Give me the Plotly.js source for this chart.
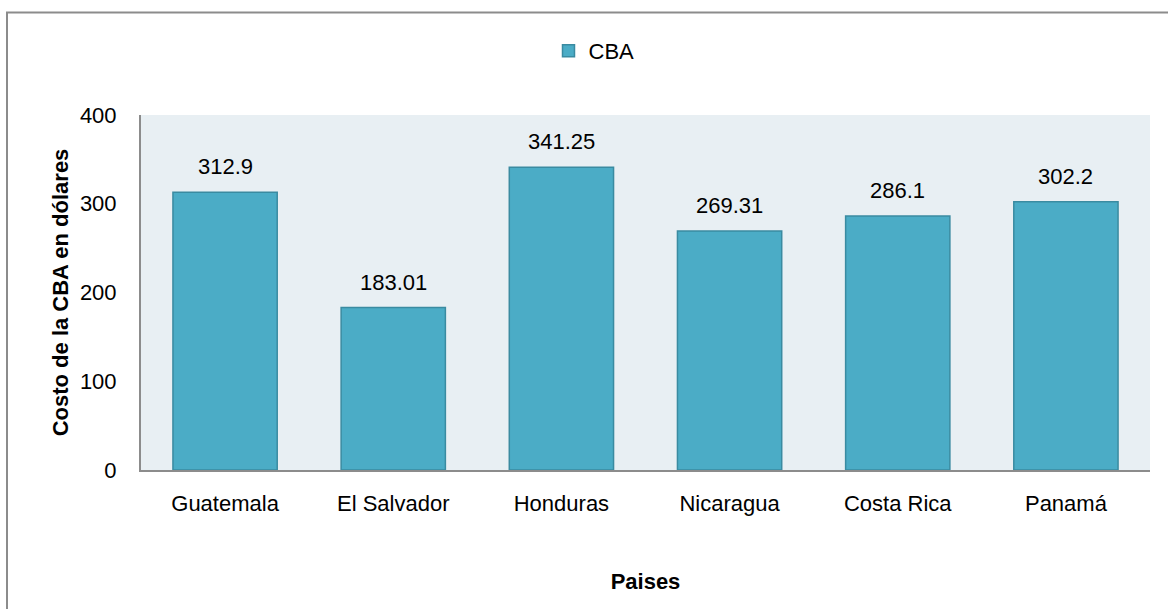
<!DOCTYPE html>
<html>
<head>
<meta charset="utf-8">
<script src="https://cdn.plot.ly/plotly-3.0.1.min.js"></script>
<style>
html,body{margin:0;padding:0;background:#fff;}
#chart{width:1168px;height:609px;}
</style>
</head>
<body>
<div id="chart"></div>
<script>
const countries = ["Guatemala", "El Salvador", "Honduras", "Nicaragua", "Costa Rica", "Panamá"];
const cbaValues = [312.9, 183.01, 341.25, 269.31, 286.1, 302.2];
const valueLabels = ["312.9", "183.01", "341.25", "269.31", "286.1", "302.2"];
const seriesName = "CBA";
const yTitle = "Costo de la CBA en dólares";
const xTitle = "Paises";

const FONT = "Liberation Sans, Arial, sans-serif";
const FS = 22;
const L = 141, R = 18, T = 115, B = 139;
const W = 1168 - L - R, H = 609 - T - B;
const px2x = p => (p - L) / W;
const py2y = p => (609 - B - p) / H;

const trace = {
  type: "bar",
  x: countries,
  y: cbaValues,
  name: seriesName,
  marker: {color: "#4BACC6", line: {color: "#3A8BA1", width: 1.5}},
  showlegend: true,
  hoverinfo: "x+y"
};

const annotations = countries.map((c, i) => ({
  x: c, y: cbaValues[i], xref: "x", yref: "y",
  text: valueLabels[i], showarrow: false,
  yanchor: "bottom", yshift: 11,
  font: {family: FONT, size: FS, color: "#000"}
}));

const layout = {
  width: 1168, height: 609,
  margin: {l: L, r: R, t: T, b: B, pad: 0},
  paper_bgcolor: "#ffffff",
  plot_bgcolor: "#E8EFF3",
  font: {family: FONT, size: FS, color: "#000"},
  bargap: 0.38,
  showlegend: true,
  legend: {
    orientation: "h", x: px2x(594), xanchor: "center", y: py2y(51), yanchor: "middle",
    font: {family: FONT, size: FS, color: "#000"}, bgcolor: "rgba(0,0,0,0)",
    itemwidth: 30
  },
  xaxis: {
    type: "category",
    showgrid: false, zeroline: false,
    showline: true, linecolor: "#8C8C8C", linewidth: 2,
    ticks: "", ticklabelstandoff: 13,
    tickfont: {family: FONT, size: FS, color: "#000"},
    title: {text: "<b>" + xTitle + "</b>", font: {family: FONT, size: FS, color: "#000"}, standoff: 58},
    fixedrange: true
  },
  yaxis: {
    range: [0, 400], tickvals: [0, 100, 200, 300, 400],
    showgrid: false, zeroline: false,
    showline: true, linecolor: "#8C8C8C", linewidth: 2,
    ticks: "", ticklabelstandoff: 18,
    tickfont: {family: FONT, size: FS, color: "#000"},
    title: {text: "<b>" + yTitle + "</b>", font: {family: FONT, size: FS, color: "#000"}, standoff: 5},
    fixedrange: true
  },
  annotations: annotations,
  shapes: [{
    type: "path", xref: "paper", yref: "paper",
    path: "M " + px2x(7) + " " + py2y(650) + " L " + px2x(7) + " " + py2y(12.5) + " L " + px2x(1200) + " " + py2y(12.5),
    line: {color: "#8C8C8C", width: 2}
  }]
};

Plotly.newPlot("chart", [trace], layout, {displayModeBar: false});
</script>
</body>
</html>
